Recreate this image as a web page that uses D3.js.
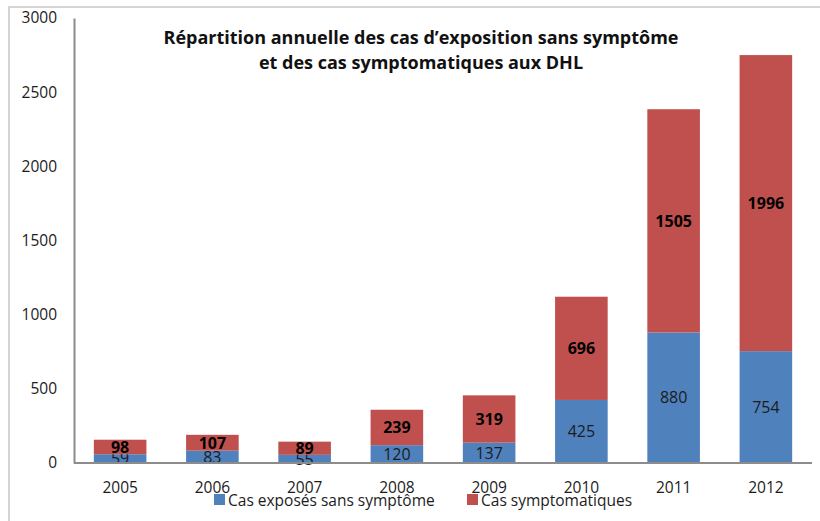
<html>
<head>
  <meta charset="utf-8" />
  <title>Répartition annuelle DHL</title>
  <script src="https://d3js.org/d3.v7.min.js"></script>
</head>
<style>
  body { margin: 0; background: #fff; }
  svg { font-family: "Open Sans", sans-serif; }
</style>
<body>
<svg class="main" width="820" height="521"></svg>
<script>

var years = ["2005", "2006", "2007", "2008", "2009", "2010", "2011", "2012"]
var exposes = [59, 83, 55, 120, 137, 425, 880, 754]
var symptomatiques = [98, 107, 89, 239, 319, 696, 1505, 1996]
var yTicks = [0, 500, 1000, 1500, 2000, 2500, 3000]
var seriesNames = ["Cas exposés sans symptôme", "Cas symptomatiques"]
var colors = ["#4f81bd", "#c0504d"]

var svg = d3.select("svg.main")

// cadre gris (bord du graphique)
svg.append("path")
  .attr("d", "M9,521 V7 H820")
  .style("fill", "none")
  .style("stroke", "#d4d4d4")
  .style("stroke-width", 2)

var x = d3.scaleBand().domain(years).range([74, 812]).paddingInner(0.43).paddingOuter(0.215)
var y = d3.scaleLinear().domain([0, 3000]).range([463, 18])

var rows = years.map(function (yr, i) {
  return {year: yr, exp: exposes[i], sym: symptomatiques[i]}
})

var stack = d3.stack().keys(["exp", "sym"])(rows)

var layer = svg.append("g").selectAll("g.layer")
  .data(stack)
  .enter()
  .append("g")
  .attr("class", "layer")
  .style("fill", function (d, i) {return colors[i]})

layer.selectAll("rect")
  .data(function (d) {return d})
  .enter()
  .append("rect")
  .attr("x", function (d) {return x(d.data.year)})
  .attr("width", x.bandwidth())
  .attr("y", function (d) {return y(d[1])})
  .attr("height", function (d) {return y(d[0]) - y(d[1])})

// étiquettes de valeurs
layer.selectAll("text")
  .data(function (d) {return d.map(function (p) {p.key = d.key; return p})})
  .enter()
  .append("text")
  .attr("x", function (d) {return x(d.data.year) + x.bandwidth() / 2})
  .attr("y", function (d) {return (y(d[0]) + y(d[1])) / 2})
  .attr("dy", "0.36em")
  .attr("text-anchor", "middle")
  .style("font-size", "16px")
  .style("fill", function (d) {return d.key == "sym" ? "#000" : "#1c1c1c"})
  .style("font-weight", function (d) {return d.key == "sym" ? "bold" : "normal"})
  .text(function (d) {return d.data[d.key]})

// axes
var yAxis = svg.append("g")
  .attr("transform", "translate(74,0)")
  .call(d3.axisLeft(y).tickValues(yTicks).tickFormat(d3.format("d")).tickSize(0).tickPadding(17))
yAxis.select(".domain").style("stroke", "#8c8c8c").style("stroke-width", 2)
yAxis.selectAll("text").style("font-size", "15.5px").style("fill", "#1c1c1c").style("font-family", "Open Sans")

var xAxis = svg.append("g")
  .attr("transform", "translate(0,463)")
  .call(d3.axisBottom(x).tickSize(0).tickPadding(19))
xAxis.select(".domain").attr("d", "M74,0H812").style("stroke", "#8c8c8c").style("stroke-width", 2)
xAxis.selectAll("text").style("font-size", "15.5px").style("fill", "#1c1c1c").style("font-family", "Open Sans")

// titre
var title = svg.append("text")
  .attr("text-anchor", "middle")
  .style("font-size", "18px")
  .style("font-weight", "bold")
  .style("fill", "#111")
title.append("tspan").attr("x", 421).attr("y", 44).text("Répartition annuelle des cas d’exposition sans symptôme")
title.append("tspan").attr("x", 421).attr("y", 69).text("et des cas symptomatiques aux DHL")

// légende
var legendX = [214, 467]
var legend = svg.append("g").selectAll("g.leg")
  .data(seriesNames)
  .enter()
  .append("g")
  .attr("class", "leg")
  .attr("transform", function (d, i) {return "translate(" + legendX[i] + ",494)"})

legend.append("rect")
  .attr("width", 11)
  .attr("height", 11)
  .style("fill", function (d, i) {return colors[i]})

legend.append("text")
  .attr("x", 14)
  .attr("y", 6)
  .attr("dy", "0.36em")
  .style("font-size", "15.5px")
  .style("fill", "#1c1c1c")
  .text(function (d) {return d})

</script>
</body>
</html>
